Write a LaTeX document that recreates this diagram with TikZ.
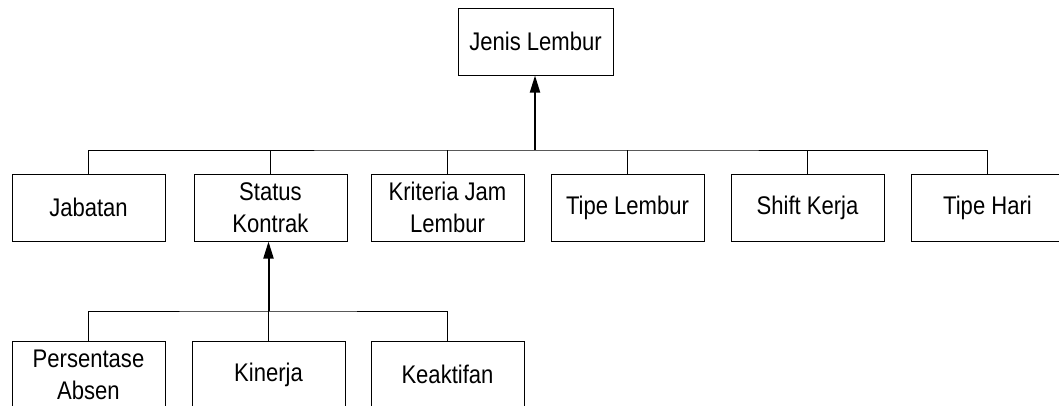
\documentclass[tikz,border=0pt]{standalone}
\usepackage{fontspec}
\setmainfont[FakeStretch=0.865]{Liberation Sans}
\usetikzlibrary{arrows.meta}
\tikzset{
  box/.style={draw=black, line width=1pt, minimum width=153pt, minimum height=67pt,
    inner sep=0pt, align=center, font=\fontsize{25.5}{32}\selectfont},
  link/.style={draw=black, line width=1pt},
  uparrow/.style={draw=black, line width=2pt, -{Triangle[length=17pt,width=10pt]}}
}
\begin{document}
\begin{tikzpicture}[x=1pt,y=-1pt]
  \clip (0,0) rectangle (1059,405);
  \fill[white] (0,0) rectangle (1059,405);

  % root
  \node[box, minimum width=155pt] (root) at (535.5,41.5) {Jenis Lembur};

  % second level
  \node[box] (jab)  at (88.5,207.5)  {Jabatan};
  \node[box] (stat) at (270.5,207.5) {Status\\Kontrak};
  \node[box] (krit) at (447.5,207.5) {Kriteria Jam\\Lembur};
  \node[box] (tipl) at (627.5,207.5) {Tipe Lembur};
  \node[box] (shft) at (807.5,207.5) {Shift Kerja};
  \node[box] (hari) at (987.5,207.5) {Tipe Hari};

  % third level
  \node[box] (abs)  at (88.5,374.5)  {Persentase\\Absen};
  \node[box] (kin)  at (268.5,374.5) {Kinerja};
  \node[box] (akt)  at (447.5,374.5) {Keaktifan};

  % bus joining the second level to the root
  \coordinate (busA) at (535,150);
  \draw[link] (jab.north) |- (busA) -| (hari.north);
  \foreach \n in {stat,krit,tipl,shft}
    \draw[link] (\n.north) -- (\n.north |- busA);
  \draw[uparrow] (busA) -- (busA |- root.south);

  % bus joining the third level to Status Kontrak
  \coordinate (busB) at (268.5,311);
  \draw[link] (abs.north) |- (busB) -| (akt.north);
  \draw[link] (kin.north) -- (busB);
  \draw[uparrow] (busB) -- (busB |- stat.south);
\end{tikzpicture}
\end{document}
